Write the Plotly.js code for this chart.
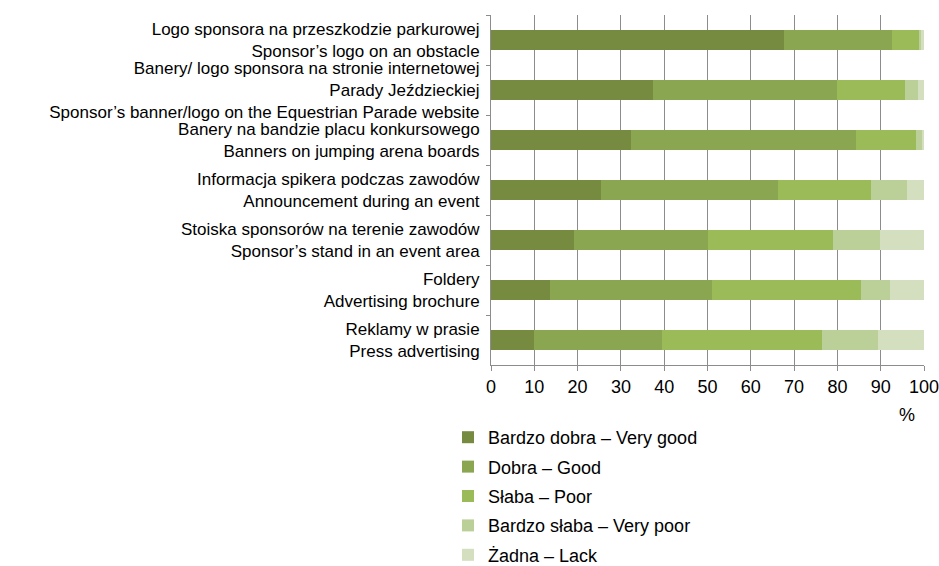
<!DOCTYPE html>
<html><head><meta charset="utf-8">
<script src="https://cdn.plot.ly/plotly-3.0.1.min.js"></script>
<style>html,body{margin:0;padding:0;background:#fff}</style>
</head><body><div id="chart" style="width:939px;height:566px"></div>
<script>
const categories = [
  "Logo sponsora na przeszkodzie parkurowej<br>Sponsor’s logo on an obstacle",
  "Banery/ logo sponsora na stronie internetowej<br>Parady Jeździeckiej<br>Sponsor’s banner/logo on the Equestrian Parade website",
  "Banery na bandzie placu konkursowego<br>Banners on jumping arena boards",
  "Informacja spikera podczas zawodów<br>Announcement during an event",
  "Stoiska sponsorów na terenie zawodów<br>Sponsor’s stand in an event area",
  "Foldery<br>Advertising brochure",
  "Reklamy w prasie<br>Press advertising"
];
const seriesNames = ["Bardzo dobra – Very good","Dobra – Good","Słaba – Poor","Bardzo słaba – Very poor","Żadna – Lack"];
const veryGood = [67.6, 37.3, 32.3, 25.5, 19.1, 13.7, 9.9];
const good     = [24.9, 42.7, 51.9, 40.8, 31.0, 37.3, 29.7];
const poor     = [6.3, 15.6, 13.9, 21.4, 28.9, 34.4, 36.8];
const veryPoor = [0.5, 2.9, 1.4, 8.4, 10.9, 6.7, 13.0];
const lack     = [0.7, 1.5, 0.5, 3.9, 10.1, 7.9, 10.6];
const xTicks = [0,10,20,30,40,50,60,70,80,90,100];
const colors = ["#768a40","#8ba651","#9bbb59","#bbcf98","#d3dfbe"];

const values = [veryGood, good, poor, veryPoor, lack];
const traces = values.map((v,i)=>({
  type:"bar", orientation:"h", name:seriesNames[i], x:v, y:categories,
  legendgroup:"g"+i,
  marker:{color:colors[i], line:{width:0}}, hoverinfo:"x+name"
}));

const layout = {
  width:939, height:566,
  margin:{l:491, r:15, t:15, b:201, autoexpand:false},
  barmode:"stack", bargap:0.6,
  paper_bgcolor:"#fff", plot_bgcolor:"#fff",
  font:{family:"Liberation Sans, Arial, sans-serif", size:18, color:"#000"},
  xaxis:{range:[0,100], tickvals:xTicks, ticktext:xTicks.map(String),
    showgrid:true, gridcolor:"#8c8c8c", gridwidth:1,
    showline:true, linecolor:"#8c8c8c", linewidth:1,
    ticks:"outside", ticklen:5, tickcolor:"#8c8c8c", ticklabeloverflow:"allow",
    zeroline:false, tickfont:{size:18}, fixedrange:true},
  yaxis:{autorange:"reversed", type:"category",
    showline:true, linecolor:"#8c8c8c", linewidth:1,
    ticks:"outside", ticklen:4, tickcolor:"#8c8c8c", tickson:"boundaries",
    ticklabelstandoff:7,
    showgrid:false, tickfont:{size:17}, fixedrange:true},
  showlegend:true,
  legend:{x:448/939, xref:"container", xanchor:"left", y:1-419/566, yref:"container", yanchor:"top",
    orientation:"v", traceorder:"grouped", tracegroupgap:3,
    font:{size:18}, bgcolor:"rgba(0,0,0,0)"},
  annotations:[{text:"%", xref:"paper", yref:"paper", x:0.961, y:-0.143,
    showarrow:false, xanchor:"center", yanchor:"middle", font:{size:18}}]
};
Plotly.newPlot("chart", traces, layout, {displayModeBar:false, staticPlot:true});
</script></body></html>
